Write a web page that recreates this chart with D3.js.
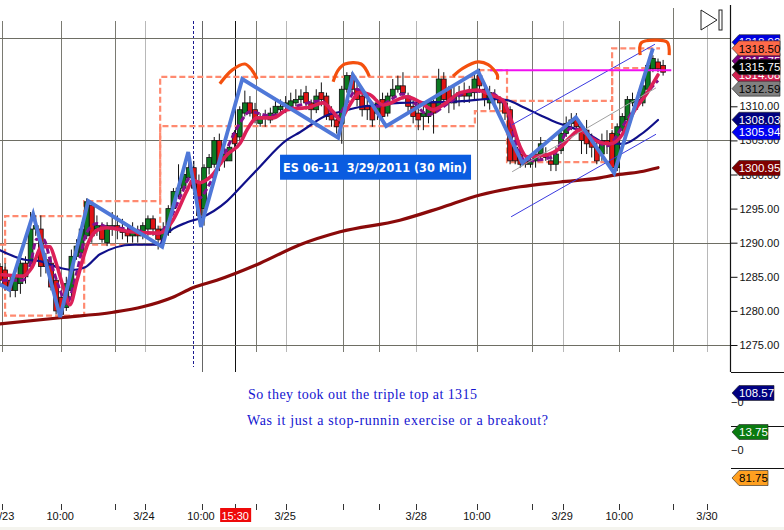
<!DOCTYPE html>
<html><head><meta charset="utf-8">
<script src="https://cdn.jsdelivr.net/npm/d3@7"></script>
<style>html,body{margin:0;padding:0;background:#fff;overflow:hidden}svg{display:block}text{font-family:"Liberation Sans",sans-serif}</style>
</head><body><svg id="c" width="784" height="530"></svg>
<script>
const opens=[1286.5,1286,1284.5,1283,1284,1287,1287,1292,1292,1287.5,
1287,1284.5,1282,1280.5,1283,1288,1288.5,1291,1295.5,1292,
1292.5,1290,1292,1292.5,1292,1291.5,1291,1291.5,1291,1292,
1293.5,1292,1290.5,1291.5,1295,1297,1298,1299.5,1301,1299,
1295,1301,1301.5,1305,1302,1302,1306,1305.5,1309,1310.5,
1309.5,1307.5,1308.5,1308,1309,1309.5,1310,1310,1310.5,1311,
1312,1310.5,1309.5,1312,1311.5,1309,1308,1307.5,1312.5,1314.5,
1312.5,1311.5,1310,1310,1309,1311,1309,1311.5,1312.5,1313,
1311.5,1310,1309,1308.5,1308.5,1310.5,1310,1314,1312.5,1310.5,
1311.5,1312,1311.5,1312,1314.5,1312.5,1310.5,1311.5,1311,1310.5,
1309.5,1304,1303,1302,1301.5,1302,1303,1303,1302,1301.5,
1303.5,1306,1307.5,1308,1307,1306.5,1305,1304,1303,1305,
1306,1301,1306.5,1308,1310.5,1311,1310.5,1312.5,1315.5,1316.5,1316];
const closes=[1284.5,1283.5,1283,1285,1287,1285,1292,1292.5,1286.5,1286.5,
1283.5,1280,1279.5,1284,1288,1289.5,1292,1296,1291,1292.5,
1290.5,1292.5,1292.5,1292,1291.5,1291,1291.5,1291,1292.5,1293.5,
1292,1290.5,1292,1295,1297.5,1298,1300,1301,1298,1294,
1301,1302.5,1305,1301.5,1303,1304,1304.5,1309.5,1310.5,1309,
1308,1308.5,1308.6,1309,1310,1310,1310.5,1310.8,1311,1311.5,
1310.5,1309.5,1311.5,1311,1308.5,1308,1307,1312.5,1314.5,1312.5,
1311,1309.5,1309.5,1308,1310.5,1308.5,1311.5,1312.5,1313,1312,
1310,1308.5,1308,1309,1310.5,1309,1314,1311,1310.5,1311.5,
1312,1311.5,1312,1314,1313,1311,1312,1311,1310.5,1309,
1302,1302,1301.5,1301.5,1302,1303,1304.5,1302.5,1301.5,1303,
1306,1307.5,1308,1307,1305,1304.5,1304,1302,1305,1304.5,
1301,1307,1308.5,1311,1311,1310.5,1313,1316,1317,1315.5,1315];
const highs=[1287,1287,1285,1286,1288,1288,1294.5,1294,1294,1288.5,
1288,1285,1283,1285,1289,1290.5,1293,1296.5,1296,1294,
1293,1293,1294.5,1294,1293.5,1292.5,1293,1292.5,1293,1294,
1294,1292.5,1293,1295.5,1298,1301.5,1301,1302.5,1302,1300,
1301.5,1303,1305.5,1306,1304,1304.5,1306.5,1310,1312.3,1311.5,
1310.5,1309,1309.5,1309.8,1311,1311,1311.5,1312,1312.5,1312.5,
1313,1311,1312.5,1313.5,1312,1310,1309,1313,1315,1315,
1314,1312,1311,1310.5,1311,1312,1312,1314,1314.5,1315,
1312,1311,1310.5,1310,1311,1311,1315.5,1315,1313,1313,
1313,1313.5,1313,1315,1315.5,1313.5,1313,1312.5,1311.5,1311,
1310,1305.5,1304.5,1302.5,1302.5,1303.5,1305.5,1304,1303,1304,
1306.5,1308.5,1309,1309,1307.5,1308,1306,1305,1306,1306.5,
1306.5,1307.5,1309,1311.5,1312,1312,1313.5,1316.5,1317.5,1317,1316.8];
const lows=[1283.5,1283,1282,1282,1282.5,1284,1286,1291,1285,1285.5,
1283,1279.5,1279,1280,1282,1287.5,1288,1290.5,1290,1291,
1290,1289.5,1291,1290.5,1290.5,1290,1290,1290,1290.5,1291,
1291,1289,1289.5,1291,1294.5,1296.5,1297.5,1299,1297,1293,
1292.5,1300,1301,1300.5,1301,1302,1304,1305,1308.5,1308.5,
1307.5,1307,1307,1307.5,1308.5,1308.7,1309,1309.5,1310,1310.5,
1309.5,1308,1309,1310,1308,1307,1306,1304.5,1312,1312,
1310,1308.5,1308,1307,1308,1307.5,1308.5,1311,1312,1311,
1309,1307.5,1306.5,1306.5,1307.5,1306,1309.5,1310,1309,1309.5,
1310,1310.5,1310.5,1311,1312,1310,1309.5,1310,1309.5,1308,
1301.5,1301.5,1301,1301,1301,1301,1302,1302,1300.5,1300.5,
1303,1305.5,1306.5,1306,1303,1303,1302.5,1301.5,1302,1303,
1300.5,1300.5,1306,1307.5,1310,1309.5,1310,1312,1315,1315,1314.5];

const navyMA=[[0,1288.9],[4.9,1287.5],[7.8,1287.3],[11.8,1286.3],[14.3,1286],[16.7,1286.4],[19.6,1288.3],[26.1,1289.7],[31.4,1289.7],[32,1290.7],[36.7,1293],[39.2,1293.6],[44.5,1296.1],[47.6,1298.5],[50.4,1300.7],[56.3,1305.1],[58.8,1306.2],[64.1,1308.7],[66.7,1309.2],[70.6,1309.9],[73.9,1310.2],[78.4,1310.5],[84.9,1310.6],[91.6,1310.8],[96.1,1311.1],[99.4,1310.9],[102.5,1309.9],[105.9,1308.7],[109.2,1307.6],[112.4,1306.8],[115.7,1305.8],[118.6,1304.6],[122.2,1304.5],[125.5,1305.8],[129,1308]];
const maroonMA=[[0,1278.1],[11.8,1279],[22.2,1279.8],[28,1280.6],[33.9,1282],[37.8,1283.4],[42.5,1284.5],[51,1287],[58.8,1289.7],[66.7,1291.6],[78.4,1293.3],[86.3,1295.1],[94.1,1297],[102,1298.2],[109.8,1298.9],[117.6,1299.5],[120.4,1299.9],[125.5,1300.4],[129,1301]];
const crimsonMA=[[0.4,1285.3],[4.5,1285.1],[6.3,1286.4],[8.2,1289.4],[9.8,1289.4],[10.8,1287.5],[12.4,1283.5],[13.7,1280.9],[15.1,1284.5],[17.3,1290],[19.2,1291.9],[21,1292.2],[25.5,1291.6],[30.8,1291.4],[32,1291.6],[33.9,1293.3],[36.7,1297.7],[37.8,1299.2],[39.2,1298.8],[41.2,1299.6],[44.5,1302.9],[47.1,1304.6],[48.4,1306.5],[50.4,1308.3],[53.5,1308.3],[56.3,1309.5],[60.8,1309.9],[63.3,1310.5],[65.3,1309.2],[66.7,1308],[68,1309.5],[70.6,1312],[72.5,1311.7],[75.1,1310.2],[79.8,1311.4],[82.4,1310.6],[84.9,1309.5],[87.6,1310.6],[90.2,1312],[93.5,1312.4],[96.1,1311.7],[98.6,1310.9],[100.4,1307.6],[102,1304],[103.3,1302.6],[107.3,1302.9],[109.8,1303.9],[111.8,1305.5],[113.7,1306.5],[116.3,1305.1],[119.6,1304.5],[122.2,1306.1],[124.1,1309],[126.9,1312],[129,1314.6]];
const purpleMA=[[0.4,1284.5],[4.5,1284.5],[6,1287],[7.2,1290.5],[8.5,1290.5],[10,1287],[11.8,1283],[13,1281],[15,1285.5],[17,1291.5],[19,1292.8],[21,1292.3],[25.5,1292],[31,1291.3],[33,1293],[35.5,1297],[37.2,1299.5],[39,1296.5],[41,1298.5],[44,1303],[47,1307.5],[49,1309.2],[53,1308.6],[58,1310],[63,1310.8],[66,1308.5],[68,1310.5],[70,1312.5],[74,1310],[79,1311.8],[84,1308.8],[88,1310.5],[92,1312.2],[95,1312.2],[99,1310.3],[101,1305],[103,1302],[108,1302.5],[112,1306.8],[115,1306],[119,1304.2],[122,1307],[125,1310.3],[129,1313.8]];
const zigzag=[[0,1283.9],[1.8,1283.1],[6.5,1294.2],[11.8,1279.1],[17.3,1296.1],[31.8,1289.4],[36.9,1303.3],[39.4,1292.3],[47.5,1314],[66.3,1305.4],[69.2,1314.6],[75.7,1307.1],[93.7,1315.2],[102.4,1301.7],[112.9,1308.4],[120.4,1300.2],[128,1318.5]];
const upperBand=[[1,1289.7],[1,1293.9],[16.5,1293.9],[16.5,1296.1],[31.4,1296.1],[31.4,1314.3],[94.1,1314.3],[94.1,1315.3],[99.4,1315.3],[99.4,1310.8],[120,1310.8],[120,1318.5],[129.4,1318.5]];
const lowerBand=[[0,1289.7],[1,1289.7],[1,1279.3],[16.5,1279.3],[16.5,1289.7],[31.4,1289.7],[31.4,1307.1],[93.1,1307.1],[93.1,1309.3],[99.4,1309.3],[99.4,1301.8],[120,1301.8],[120,1315.6],[130.4,1315.6]];
const arcs=[[[43.1,1313.3],[45.5,1315.3],[48,1316.2],[49.4,1315.3],[50.4,1314]],
[[65.3,1313.6],[66.3,1315.3],[67.6,1316.2],[70.8,1316.2],[72.4,1314.4]],
[[88.8,1314.4],[90.8,1315.6],[93.7,1316.5],[95.7,1316.1],[97.5,1314.6],[97.5,1313.9]],
[[125.5,1317.5],[125.7,1319.3],[128.4,1319.7],[130.8,1319.4],[131.2,1317.5]]];
const channels=[{p:[[100.4,1307.3],[128.4,1319.1]],c:"#3a3ae0"},{p:[[100.2,1293.8],[128.6,1305.9]],c:"#3a3ae0"},{p:[[100.4,1300.4],[128.6,1312.7]],c:"#a0a0a0"}];
const tripleTop=[[96.1,1315.3],[131.6,1315.3]];
const darkGrid=[0.3,12,22.5,39.6,50.2,67.3,74.3,93.5,104.3,121.4,132];
const lightGrid=[28.4,56.1,81.6,110.4,138.6];
const blackGrid=[46.1];
const dashGrid=[37.8];
const hGridPrices=[1320,1305,1290,1275];
const priceTicks=[1275,1280,1285,1290,1295,1300,1305,1310];
const timeLabels=[["/23",1.3],["10:00",11.8],["3/24",28.2],["10:00",39.4],["3/25",55.9],["3/28",81.6],["10:00",93.5],["3/29",110.2],["10:00",121.4],["3/30",138.6]];
const cursorLabel=["15:30",46.1];
const tagsMain=[["1318.92",1319.4,"#0000e0","#fff"],["1314.08",1314.6,"#d02050","#fff"],["1315.75",1316.65,"#800080","#fff"],["1315.75",1315.75,"#000","#fff"],["1318.50",1318.5,"#ff6a4a","#000"],["1312.59",1312.59,"#808080","#000"],["1308.03",1308.03,"#000080","#fff"],["1305.94",1306.2,"#0000f0","#fff"],["1300.95",1300.95,"#800000","#fff"]];
const tagsLower=[["108.57",108.57,"#000080","#fff"],["13.75",13.75,"#0a7a10","#fff"],["81.75",81.75,"#ffa020","#000"]];
const title="ES 06-11  3/29/2011 (30 Min)";
const notes=["So they took out the triple top at 1315","Was it just a stop-runnin exercise or a breakout?"];

const svg=d3.select("#c");
const x=d3.scaleLinear().domain([0,153.7]).range([0,784]);
const y=d3.scaleLinear().domain([1275,1320]).range([345,38.1]);
const line=d3.line().x(d=>x(d[0])).y(d=>y(d[1]));
const smooth=d3.line().x(d=>x(d[0])).y(d=>y(d[1])).curve(d3.curveMonotoneX);
const arcCurve=d3.line().x(d=>x(d[0])).y(d=>y(d[1])).curve(d3.curveCatmullRom);
const grid=svg.append("g");
function vl(arr,c,w,y1,y2,dash){grid.selectAll(null).data(arr).join("line").attr("x1",d=>Math.round(x(d))+.5).attr("x2",d=>Math.round(x(d))+.5).attr("y1",y1).attr("y2",y2).attr("stroke",c).attr("stroke-width",w).attr("stroke-dasharray",dash||null);}
vl(darkGrid.filter(d=>d!==132&&d!==39.6),"#7a7a72",1,21,352);
vl([132],"#7a7a72",1,8,352);
vl(lightGrid,"#b8b8b8",1,21,352);
vl([39.6],"#666",1,21,372);
vl(blackGrid,"#111",1,21,372);
vl(dashGrid,"#1a1a90",1,21,367,"3,2");
vl(darkGrid.concat(lightGrid,blackGrid),"#333",1,504,510);
grid.selectAll(null).data(hGridPrices).join("line").attr("x1",0).attr("x2",731).attr("y1",d=>Math.round(y(d))+.5).attr("y2",d=>Math.round(y(d))+.5).attr("stroke","#6e6e64").attr("stroke-width",1);

const bandG=svg.append("g").attr("fill","none").attr("stroke","#ff8a70").attr("stroke-width",2.2).attr("stroke-dasharray","6,3");
[upperBand,lowerBand].forEach(b=>bandG.append("path").attr("d",line(b)));

const bars=svg.append("g");
const idx=d3.range(opens.length);
bars.selectAll("line").data(idx).join("line").attr("x1",i=>x(i)).attr("x2",i=>x(i)).attr("y1",i=>y(highs[i])).attr("y2",i=>y(lows[i])).attr("stroke","#111").attr("stroke-width",1);
bars.selectAll("rect").data(idx).join("rect").attr("x",i=>x(i)-2.4).attr("width",4.8)
 .attr("y",i=>y(Math.max(opens[i],closes[i]))).attr("height",i=>Math.max(1.5,Math.abs(y(opens[i])-y(closes[i]))))
 .attr("fill",i=>closes[i]>=opens[i]?"#0c7a22":"#e01414").attr("stroke","#111").attr("stroke-width",.8);

const lp=(d,c,w,dash)=>svg.append("path").attr("d",smooth(d)).attr("fill","none").attr("stroke",c).attr("stroke-width",w).attr("stroke-dasharray",dash||null).attr("stroke-linecap",dash?null:"round");
lp(navyMA,"#10108a",2.2);
lp(maroonMA,"#8a0a0a",3.2);
lp(purpleMA,"#82108c",3,"6,3");
lp(crimsonMA,"#dc2058",3.6);
channels.forEach(ch=>svg.append("path").attr("d",line(ch.p)).attr("fill","none").attr("stroke",ch.c).attr("stroke-width",1));
svg.append("path").attr("d",line(tripleTop)).attr("stroke","#f010f0").attr("stroke-width",2);
svg.append("path").attr("d",line(zigzag)).attr("fill","none").attr("stroke","#4f78d8").attr("stroke-width",3.8).attr("stroke-linejoin","miter");
arcs.forEach(a=>svg.append("path").attr("d",arcCurve(a)).attr("fill","none").attr("stroke","#f4500e").attr("stroke-width",3.2));

const tg=svg.append("g");
tg.append("rect").attr("x",x(54.9)).attr("y",y(1302.9)).attr("width",191).attr("height",25).attr("fill","#0a5ce0");
tg.append("text").attr("x",x(54.9)+3).attr("y",y(1302.9)+17).attr("fill","#fff").attr("font-weight","bold").attr("font-size",12).style("font-family","'DejaVu Sans'").style("white-space","pre").attr("textLength",184).attr("lengthAdjust","spacingAndGlyphs").text(title);

const noteW=[229,301];
svg.selectAll(".n").data(notes).join("text").attr("class","n").attr("x",(d,i)=>248-i).attr("y",(d,i)=>399+i*26).attr("fill","#1414d0").attr("font-size",14).attr("textLength",(d,i)=>noteW[i]).attr("lengthAdjust","spacing").style("font-family","'Liberation Serif'").text(d=>d);

svg.append("path").attr("d",d3.line()([[701,10],[701,30],[717,20]])+"Z").attr("fill","#fff").attr("stroke","#222");
svg.append("rect").attr("x",719).attr("y",10).attr("width",3).attr("height",20).attr("fill","#fff").attr("stroke","#222");

const ag=svg.append("g").attr("transform","translate(730.5,0)");
const ax=d3.axisRight(y).tickValues(priceTicks).tickSize(7).tickSizeOuter(0).tickFormat(d3.format(".2f"));
const axG=ag.call(ax);
axG.select(".domain").remove();
axG.selectAll("line").attr("stroke","#111");
axG.selectAll("text").attr("x",9).attr("fill","#111").attr("font-size",11).style("font-family","'Liberation Sans'");
svg.append("line").attr("x1",730.5).attr("x2",730.5).attr("y1",5).attr("y2",372).attr("stroke","#111").attr("stroke-width",1.2);
svg.selectAll(".sep").data([372,426,468]).join("line").attr("class","sep").attr("x1",731).attr("x2",784).attr("y1",d=>d+.5).attr("y2",d=>d+.5).attr("stroke","#111");
svg.selectAll(".z").data([402,450]).join("text").attr("class","z").attr("x",731).attr("y",d=>d+4).attr("font-size",11).attr("fill","#111").text("\u22120");

function tag(cy,label,fill,tc,w){
 const g=svg.append("g").attr("transform",`translate(732,${cy})`);
 g.append("path").attr("d",d3.line()([[0,0],[7,-7.5],[w,-7.5],[w,7.5],[7,7.5]])+"Z").attr("fill",fill).attr("stroke","#222").attr("stroke-width",.6);
 g.append("text").attr("x",(w+7)/2).attr("y",4.2).attr("text-anchor","middle").attr("font-size",11.5).attr("fill",tc).text(label);
}
tagsMain.forEach(t=>tag(y(t[1]),t[0],t[2],t[3],48));
const lowerY=d3.scaleOrdinal().domain(tagsLower.map(d=>d[0])).range([393,432,478]);
tagsLower.forEach((t,i)=>tag(lowerY(t[0]),t[0],t[2],t[3],i==0?42:36));

svg.selectAll(".t").data(timeLabels).join("text").attr("class","t").attr("x",d=>x(d[1])).attr("y",520).attr("text-anchor","middle").attr("font-size",11).attr("fill","#111").text(d=>d[0]);
svg.append("rect").attr("x",x(cursorLabel[1])-15).attr("y",508).attr("width",31).attr("height",14).attr("fill","#ee0a0a");
svg.append("text").attr("x",x(cursorLabel[1])).attr("y",519.5).attr("text-anchor","middle").attr("font-size",11).attr("fill","#fff").text(cursorLabel[0]);
svg.append("rect").attr("x",0).attr("y",527).attr("width",784).attr("height",3).attr("fill","#f4f4ee");
</script></body></html>
